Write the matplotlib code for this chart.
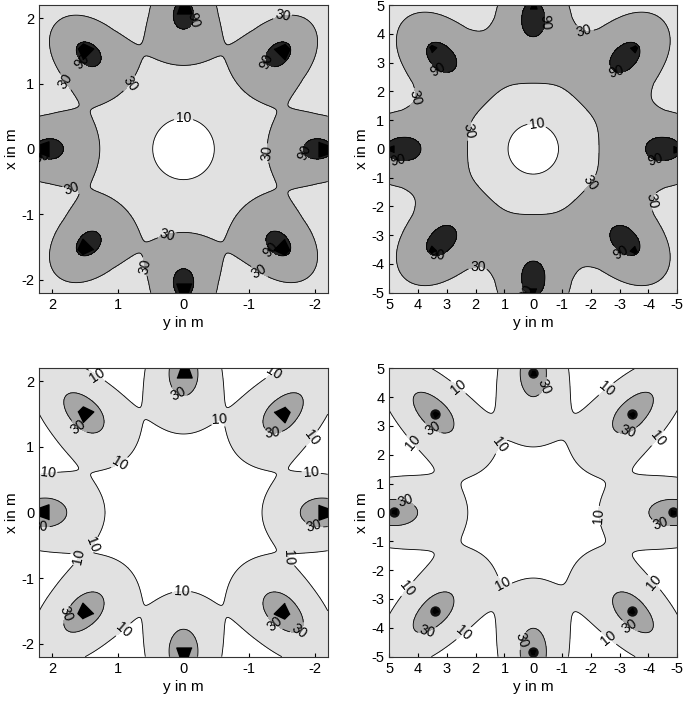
import numpy as np
import matplotlib
matplotlib.use("Agg")
import matplotlib.pyplot as plt
from matplotlib.markers import MarkerStyle
from matplotlib.transforms import Affine2D

plt.rcParams["font.family"] = ["Liberation Sans", "DejaVu Sans"]
plt.rcParams["axes.unicode_minus"] = False

# 8 luminaires on a ring (angle in degrees, 0 = +x)
lamp_angles = [0, 45, 90, 135, 180, 225, 270, 315]
levels = [10, 30, 90]
fill_colors = ["white", "#e1e1e1", "#a6a6a6", "#232323"]

# panels: top-left, top-right, bottom-left, bottom-right
half_width = [2.2, 5.0, 2.2, 5.0]
lamp_radius = [2.15, 4.95, 2.15, 4.85]
spot_radius = [2.05, 4.57, 2.12, 4.84]   # centre of each light spot
peak = [145, 113.6, 50.5, 59]
decay_in = [0.41, 1.54, 0.559, 1.15]     # towards the ring centre
decay_out = [0.43, 1.45, 0.7, 1.4]
decay_side = [0.30, 1.0, 0.37, 0.65]
side_growth = [0.17, 0.13, 0.0, 0.0]     # spot widens towards the centre
shape = [1.0, 1.45, 1.2, 1.0]
ticks = [[-2, -1, 0, 1, 2], list(range(-5, 6)), [-2, -1, 0, 1, 2], list(range(-5, 6))]
marker_size = [11, 5, 11, 4]
dot_size = [0, 0, 0, 7.5]

# where the contour labels sit, as (y, x)
label_pos = [
    [(-0.25, 1.94), (-1.32, 1.36), (-1.85, -0.05), (1.58, 1.31), (2.15, -0.1),
     (-1.32, -1.55), (-1.52, 1.97), (1.96, 0.93), (0.74, 0.94), (-1.2, -0.07),
     (1.73, -0.71), (0.28, -1.21), (0.7, -1.82), (-1.1, -1.97), (0.0, 0.41)],
    [(-0.47, 4.41), (3.3, 2.74), (-2.95, 2.85), (4.69, -0.39), (-4.23, -0.39),
     (3.35, -3.63), (-3.07, -3.57), (0.05, -4.9), (-1.8, 4.24), (4.22, 1.81),
     (2.43, 0.65), (-2.08, -1.26), (-4.23, -1.83), (1.91, -4.32), (-0.12, 0.83)],
    [(1.27, 2.17), (-1.37, 2.14), (-0.53, 1.49), (-2.06, 1.06), (-1.96, 0.75),
     (2.09, 0.75), (0.97, 0.75), (1.38, -0.5), (1.48, -0.7), (-1.58, -0.7),
     (0.03, -1.21), (0.82, -1.9), (-1.96, -2.1), (0.03, 1.89), (1.63, 1.26),
     (-1.37, 1.31), (2.19, -0.22), (-1.98, -0.22), (1.63, -1.62), (-1.37, -1.72)],
    [(2.31, 4.71), (-2.08, 4.83), (4.69, 1.99), (1.27, 2.4), (-4.69, 2.28),
     (-2.49, -0.09), (-4.63, -2.05), (4.74, -2.34), (1.16, -2.63), (2.02, -4.65),
     (-2.38, -4.65), (-0.52, 4.31), (3.59, 2.75), (-3.3, 2.75), (4.34, 0.67),
     (-4.34, -0.61), (3.7, -4.07), (-3.3, -4.02), (0.64, -4.36)],
]

axes_rect = [
    [0.0574, 0.5836, 0.4210, 0.4092],
    [0.5683, 0.5836, 0.4204, 0.4092],
    [0.0574, 0.0659, 0.4210, 0.4102],
    [0.5683, 0.0659, 0.4204, 0.4102],
]

lamp_shape = [(-0.35, 0.5), (0.35, 0.5), (0.7, -0.5), (-0.7, -0.5)]


def illuminance(i, X, Y):
    E = np.zeros_like(X)
    for a in np.deg2rad(lamp_angles):
        ux, uy = np.cos(a), np.sin(a)
        dx = X - spot_radius[i] * ux
        dy = Y - spot_radius[i] * uy
        rho = dx * ux + dy * uy
        tau = -dx * uy + dy * ux
        lr = np.where(rho < 0, decay_in[i], decay_out[i])
        ls = decay_side[i] * np.exp(side_growth[i] * np.clip(-rho, 0, None))
        d = np.sqrt((rho / lr) ** 2 + (tau / ls) ** 2)
        E += peak[i] * np.exp(-d ** shape[i])
    return E


fig = plt.figure(figsize=(6.85, 7.03), dpi=100)
for i in range(4):
    ax = fig.add_axes(axes_rect[i])
    hw = half_width[i]
    g = np.linspace(-hw, hw, 241)
    X, Y = np.meshgrid(g, g, indexing="ij")
    E = illuminance(i, X, Y)
    ax.contourf(Y, X, E, levels=[0] + levels + [1e6], colors=fill_colors)
    cs = ax.contour(Y, X, E, levels=levels, colors="k", linewidths=0.6)
    ax.clabel(cs, fmt="%d", fontsize=10, inline=True, inline_spacing=2,
              manual=label_pos[i])

    for a in lamp_angles:
        t = np.deg2rad(a)
        px, py = lamp_radius[i] * np.sin(t), lamp_radius[i] * np.cos(t)
        if dot_size[i]:
            ax.plot(px, py, "o", color="#111111", ms=dot_size[i], mew=0)
        m = MarkerStyle(lamp_shape, transform=Affine2D().rotate_deg(a))
        ax.plot(px, py, marker=m, color="k", ms=marker_size[i], ls="none")

    ax.set_xlim(hw, -hw)
    ax.set_ylim(-hw, hw)
    ax.set_xticks(ticks[i])
    ax.set_yticks(ticks[i])
    ax.tick_params(direction="in", length=3, labelsize=10.5)
    ax.set_xlabel("y in m", fontsize=11, labelpad=3)
    ax.set_ylabel("x in m", fontsize=11, labelpad=2)
    for s in ax.spines.values():
        s.set_linewidth(0.8)
        s.set_color("#333333")

fig.savefig("out.png", dpi=100)
